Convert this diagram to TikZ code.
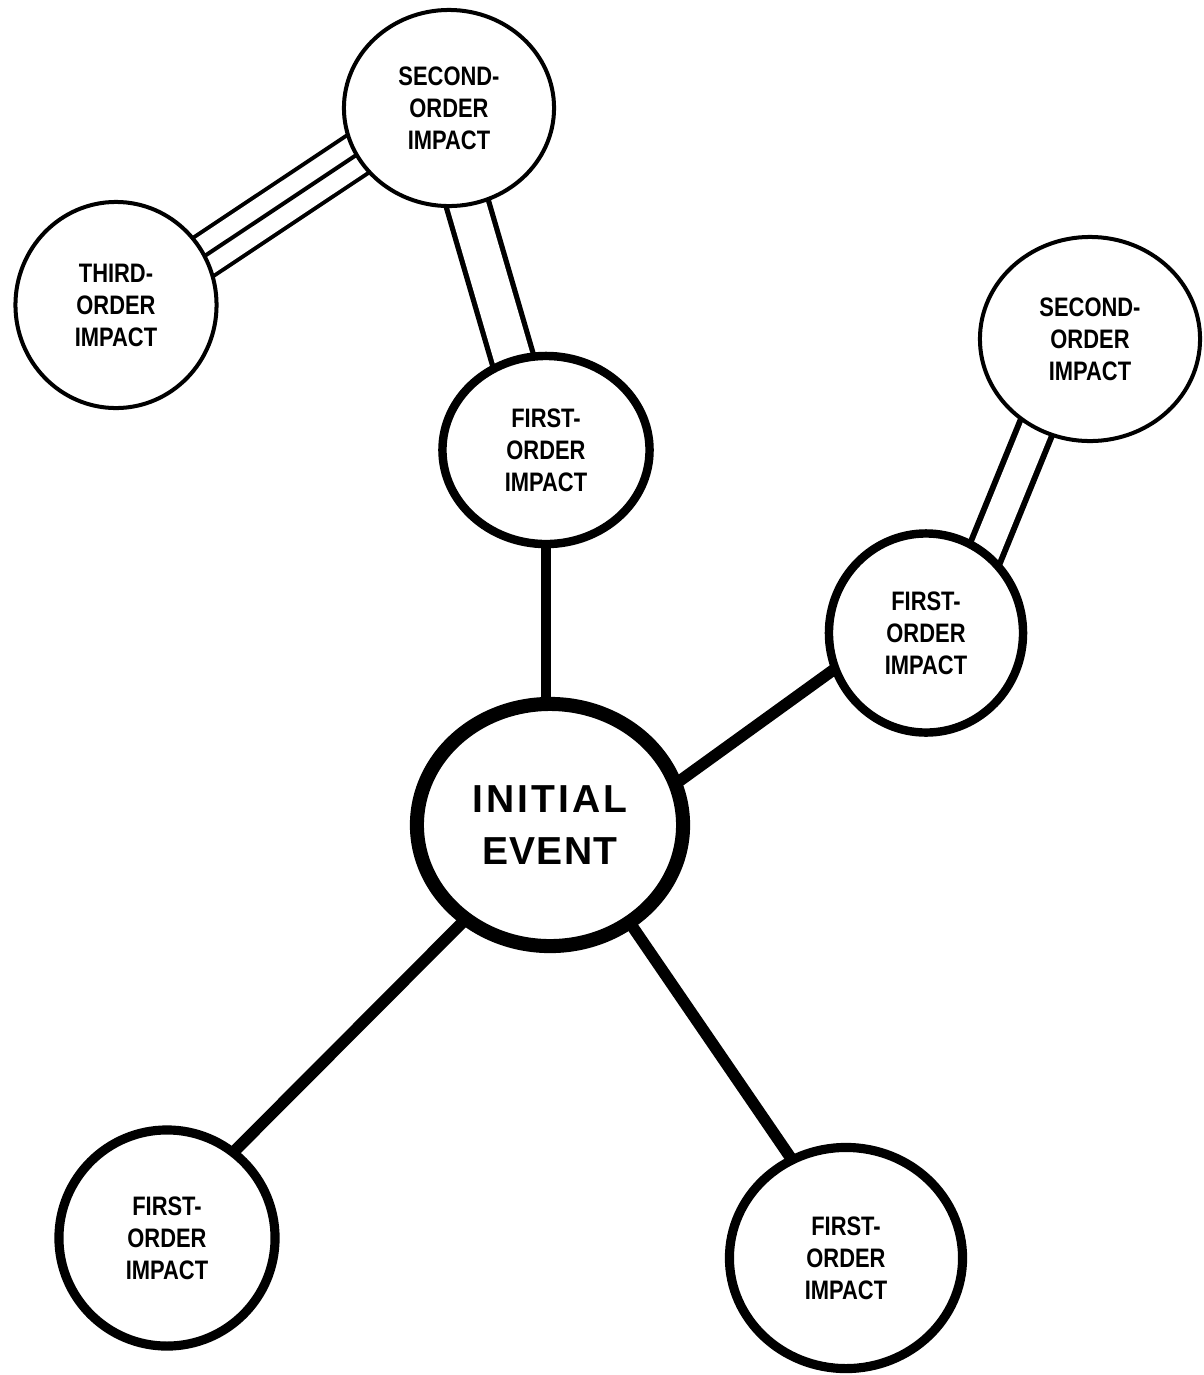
\documentclass[tikz,border=0pt]{standalone}
\usepackage{fontspec}
\setmainfont{Liberation Sans}
\newfontfamily\smallf[FakeStretch=0.82]{Liberation Sans}
\newfontfamily\bigf[LetterSpace=3]{Liberation Sans}
\usetikzlibrary{shapes.geometric,backgrounds}
\tikzset{
  bub/.style={ellipse, draw, fill=white, inner sep=0pt, align=center,
    font=\smallf\bfseries\fontsize{7.6pt}{9.1pt}\selectfont},
  thinbub/.style={bub, line width=1.14pt},
  firstbub/.style={bub, line width=2.4pt},
  initbub/.style={ellipse, draw, fill=white, inner sep=0pt, align=center,
    line width=4pt, font=\bigf\bfseries\fontsize{11.1pt}{14.8pt}\selectfont},
  mainlink/.style={line width=3.3pt, shorten <=-0.1cm, shorten >=-0.1cm},
  vlink/.style={line width=2.9pt, shorten <=-0.1cm, shorten >=-0.1cm},
  dbllink/.style={line width=1.5pt, double distance=0.37cm, shorten <=-0.2cm, shorten >=-0.2cm},
  dbllinkb/.style={line width=1.7pt, double distance=0.29cm, shorten <=-0.2cm, shorten >=-0.2cm},
  triplink/.style={line width=1.14pt, double distance=0.39cm, shorten <=-0.2cm, shorten >=-0.2cm},
  tripmid/.style={line width=1.14pt, shorten <=-0.2cm, shorten >=-0.2cm},
}
\begin{document}
\begin{tikzpicture}[x=0.01cm, y=-0.01cm]
\useasboundingbox (0,0) rectangle (1204,1375);
% nodes
\node[thinbub, minimum width=2.10cm, minimum height=1.96cm] (s1) at (449,108) {SECOND-\\ORDER\\IMPACT};
\node[thinbub, minimum width=2.01cm, minimum height=2.06cm] (t) at (116,305) {THIRD-\\ORDER\\IMPACT};
\node[firstbub, minimum width=2.07cm, minimum height=1.88cm] (f1) at (546,450) {FIRST-\\ORDER\\IMPACT};
\node[thinbub, minimum width=2.20cm, minimum height=2.04cm] (s2) at (1090,339) {SECOND-\\ORDER\\IMPACT};
\node[firstbub, minimum width=1.94cm, minimum height=1.99cm] (f2) at (926,633) {FIRST-\\ORDER\\IMPACT};
\node[initbub, minimum width=2.66cm, minimum height=2.42cm] (init) at (550,825) {{\addfontfeature{LetterSpace=8}INITIAL}\\EVENT};
\node[firstbub, line width=2.6pt, minimum width=2.16cm, minimum height=2.16cm] (bl) at (167,1238) {FIRST-\\ORDER\\IMPACT};
\node[firstbub, line width=2.6pt, minimum width=2.33cm, minimum height=2.21cm] (br) at (846,1258) {FIRST-\\ORDER\\IMPACT};
% connectors
\begin{scope}[on background layer]
\draw[vlink] (f1.south) -- (f1.south |- init.north);
\draw[mainlink] (init.19) -- (f2.202);
\draw[mainlink] (init.228) -- (bl.52);
\draw[mainlink] (init.309) -- (br.119);
\draw[dbllink] (s1.281) -- (f1.110);
\draw[dbllinkb] (f2.54) -- (s2.239);
\draw[triplink] (t.29) -- (s1.207);
\draw[tripmid] (t.29) -- (s1.207);
\end{scope}
\end{tikzpicture}
\end{document}
